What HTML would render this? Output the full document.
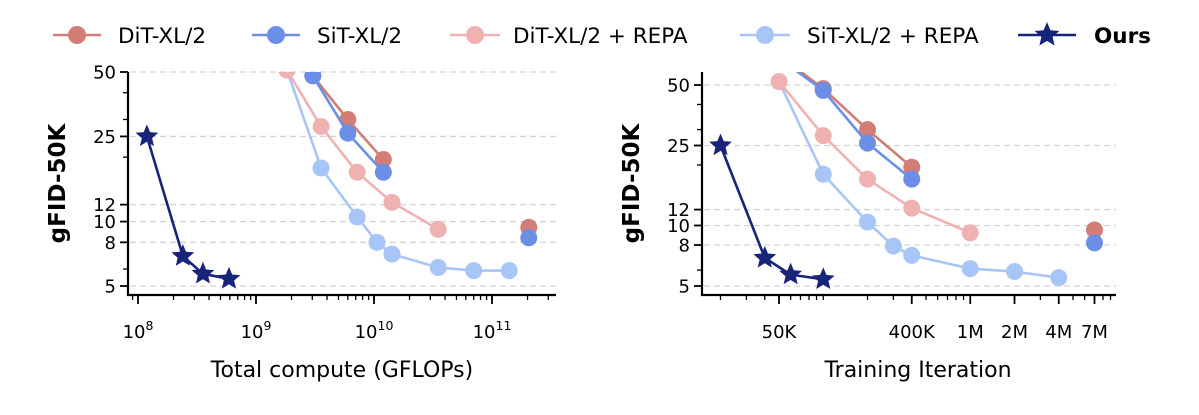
<!DOCTYPE html>
<html><head><meta charset="utf-8"><style>
body{margin:0;background:#fff;}
svg{display:block;font-family:"DejaVu Sans","Liberation Sans",sans-serif;}
</style></head><body>
<svg id="c" width="1199" height="415" viewBox="0 0 1199 415" xmlns="http://www.w3.org/2000/svg"></svg>
<script>
// ---- data ----
const seriesNames = ["DiT-XL/2","SiT-XL/2","DiT-XL/2 + REPA","SiT-XL/2 + REPA","Ours"];
const seriesColors = ["#d27d75","#6b8fe6","#f0b2b1","#a8c5f7","#18237a"];
// Left: compute (GFLOPs) vs gFID
const leftDiTx = [3.03e9, 6.0e9, 1.2e10];      const leftDiTy = [48, 30, 19.5];
const leftSiTx = [3.03e9, 6.0e9, 1.2e10];      const leftSiTy = [48, 25.9, 17];
const leftDiTRepaX = [1.83e9, 3.56e9, 7.2e9, 1.42e10, 3.5e10]; const leftDiTRepaY = [51, 27.8, 17, 12.3, 9.2];
const leftSiTRepaX = [1.83e9, 3.56e9, 7.2e9, 1.06e10, 1.42e10, 3.5e10, 7.0e10, 1.4e11];
const leftSiTRepaY = [51, 17.8, 10.5, 8.0, 7.05, 6.1, 5.9, 5.9];
const leftOursX = [1.19e8, 2.4e8, 3.55e8, 5.9e8]; const leftOursY = [25, 6.9, 5.7, 5.4];
const leftDiTSoloX = [2.05e11]; const leftDiTSoloY = [9.4];
const leftSiTSoloX = [2.05e11]; const leftSiTSoloY = [8.4];
// Right: training iteration vs gFID
const rightDiTx = [50e3, 100e3, 200e3, 400e3]; const rightDiTy = [70, 48, 30, 19.5];
const rightSiTx = [50e3, 100e3, 200e3, 400e3]; const rightSiTy = [68, 47, 25.7, 17];
const rightDiTRepaX = [50e3, 100e3, 200e3, 400e3, 1e6]; const rightDiTRepaY = [52, 28, 17, 12.2, 9.2];
const rightSiTRepaX = [50e3, 100e3, 200e3, 300e3, 400e3, 1e6, 2e6, 4e6];
const rightSiTRepaY = [52, 18, 10.4, 7.9, 7.1, 6.1, 5.9, 5.5];
const rightOursX = [20e3, 40e3, 60e3, 100e3]; const rightOursY = [25, 6.9, 5.7, 5.4];
const rightDiTSoloX = [7e6]; const rightDiTSoloY = [9.5];
const rightSiTSoloX = [7e6]; const rightSiTSoloY = [8.2];
const yTickVals = [5, 8, 10, 12, 25, 50];
const yMinorVals = [6, 20, 30, 40];
const leftXTickVals = [1e8, 1e9, 1e10, 1e11];
const leftXTickLabels = ["10","10","10","10"];
const leftXTickExp = ["8","9","10","11"];
const rightXTickVals = [50e3, 400e3, 1e6, 2e6, 4e6, 7e6];
const rightXTickLabels = ["50K","400K","1M","2M","4M","7M"];

const NS="http://www.w3.org/2000/svg";
const svg=document.getElementById('c');
function mk(tag,attrs,parent){const e=document.createElementNS(NS,tag);for(const k in attrs)e.setAttribute(k,attrs[k]);(parent||svg).appendChild(e);return e;}
const L10=Math.log10;

function starPts(cx,cy,r){let p=[];for(let i=0;i<10;i++){const a=-Math.PI/2+i*Math.PI/5;const rr=i%2?r*0.45:r;p.push((cx+rr*Math.cos(a)).toFixed(1)+","+(cy+rr*Math.sin(a)).toFixed(1));}return p.join(" ");}

function panel(cfg,id){
  const g=mk('g',{});
  
  
  const X=v=>cfg.x0+(L10(v)-cfg.xl0)*cfg.xs;
  const Y=v=>cfg.yb-(L10(v)-L10(5))*cfg.ys;
  const clipId='clip-'+id;
  const cp=mk('clipPath',{id:clipId},g);
  mk('rect',{x:cfg.left,y:cfg.top,width:cfg.right-cfg.left,height:cfg.bottom-cfg.top},cp);
  yTickVals.forEach(v=>{const l=mk('line',{x1:cfg.left+2,x2:cfg.right,y1:Y(v),y2:Y(v),stroke:'#d4d4d4','stroke-width':1.3,'stroke-dasharray':'6,4'},g);
    });
  yTickVals.forEach(v=>{mk('line',{x1:cfg.left-8,x2:cfg.left,y1:Y(v),y2:Y(v),stroke:'#000','stroke-width':1.8},g);
    const t=mk('text',{x:cfg.left-12,y:Y(v)+6.5,'text-anchor':'end','font-size':18},g);t.textContent=v;
    });
  yMinorVals.forEach(v=>{mk('line',{x1:cfg.left-5,x2:cfg.left,y1:Y(v),y2:Y(v),stroke:'#000','stroke-width':1.3},g);});
  for(let d=cfg.dMin;d<=cfg.dMax;d++){for(let m=1;m<10;m++){const v=m*Math.pow(10,d);const x=X(v);if(x<cfg.left+3||x>cfg.right)continue;
    mk('line',{x1:x,x2:x,y1:cfg.bottom,y2:cfg.bottom+5,stroke:'#000','stroke-width':1.3},g);}}
  cfg.xt.forEach((v,i)=>{const x=X(v);mk('line',{x1:x,x2:x,y1:cfg.bottom,y2:cfg.bottom+9,stroke:'#000','stroke-width':1.8},g);
    const t=mk('text',{x:x,y:338,'text-anchor':'middle','font-size':18},g);
    if(cfg.xe){t.textContent=cfg.xl[i];const s=mk('tspan',{dy:-8,'font-size':12.5},t);s.textContent=cfg.xe[i];}else t.textContent=cfg.xl[i];
    });
  mk('line',{x1:cfg.left,x2:cfg.left,y1:cfg.top,y2:cfg.bottom+1,stroke:'#000','stroke-width':2.2},g);
  mk('line',{x1:cfg.left-1,x2:cfg.right,y1:cfg.bottom,y2:cfg.bottom,stroke:'#000','stroke-width':2.2},g);
  const dg=mk('g',{'clip-path':'url(#'+clipId+')'},g);
  const order=[[3,cfg.s[3]],[2,cfg.s[2]],[0,cfg.s[0]],[1,cfg.s[1]],[4,cfg.s[4]]];
  order.forEach(([si,[xs,ys]])=>{
    const col=seriesColors[si];
    const pts=xs.map((v,i)=>X(v).toFixed(1)+","+Y(ys[i]).toFixed(1)).join(" ");
    const pl=mk('polyline',{points:pts,fill:'none',stroke:col,'stroke-width':2.6,'stroke-linejoin':'round'},dg);
    
    xs.forEach((v,i)=>{let m;
      if(si==4){m=mk('polygon',{points:starPts(X(v),Y(ys[i]),12),fill:col},dg);}
      else m=mk('circle',{cx:X(v),cy:Y(ys[i]),r:8.5,fill:col},dg);
      });
  });
  [[0,cfg.solo[0]],[1,cfg.solo[1]]].forEach(([si,[xs,ys]])=>{xs.forEach((v,i)=>{const m=mk('circle',{cx:X(v),cy:Y(ys[i]),r:8.5,fill:seriesColors[si]},dg);
    });});
  const yl=mk('text',{x:0,y:0,transform:`translate(${cfg.left-63},${(cfg.top+cfg.bottom)/2}) rotate(-90)`,'text-anchor':'middle','font-size':23,'font-weight':'bold'},g);
  yl.textContent='gFID-50K';
  const xl=mk('text',{x:cfg.xlabX,y:377,'text-anchor':'middle','font-size':22},g);
  xl.textContent=cfg.xlabel;
}

panel({left:128,right:556,top:72,bottom:295,x0:138,xl0:8,xs:118,yb:286,ys:214,dMin:7,dMax:11,
  xt:leftXTickVals,xl:leftXTickLabels,xe:leftXTickExp,xlabel:'Total compute (GFLOPs)',xlabX:342,
  s:[[leftDiTx,leftDiTy],[leftSiTx,leftSiTy],[leftDiTRepaX,leftDiTRepaY],[leftSiTRepaX,leftSiTRepaY],[leftOursX,leftOursY]],
  solo:[[leftDiTSoloX,leftDiTSoloY],[leftSiTSoloX,leftSiTSoloY]]},'left');
panel({left:702,right:1116,top:72,bottom:295,x0:779,xl0:L10(50e3),xs:147,yb:286,ys:201,dMin:4,dMax:6,
  xt:rightXTickVals,xl:rightXTickLabels,xe:null,xlabel:'Training Iteration',xlabX:918,
  s:[[rightDiTx,rightDiTy],[rightSiTx,rightSiTy],[rightDiTRepaX,rightDiTRepaY],[rightSiTRepaX,rightSiTRepaY],[rightOursX,rightOursY]],
  solo:[[rightDiTSoloX,rightDiTSoloY],[rightSiTSoloX,rightSiTSoloY]]},'right');

// legend: [line start, marker center, text x]
const legX=[[53,77,118],[252,276,317],[450,475,513],[740,765,807],[1018,1047,1094]];
const lg=mk('g',{});


seriesNames.forEach((n,i)=>{const [x1,cx,tx]=legX[i];const y=35;const col=seriesColors[i];
  const e=mk('g',{},lg);
  
  
  mk('line',{x1:x1,x2:x1+(cx-x1)*2,y1:y,y2:y,stroke:col,'stroke-width':2.6},e);
  if(i==4)mk('polygon',{points:starPts(cx,y,13),fill:col},e);else mk('circle',{cx:cx,cy:y,r:9,fill:col},e);
  const t=mk('text',{x:tx,y:y+8,'font-size':21.5,'font-weight':i==4?'bold':'normal'},e);t.textContent=n;});
</script>
</body></html>
